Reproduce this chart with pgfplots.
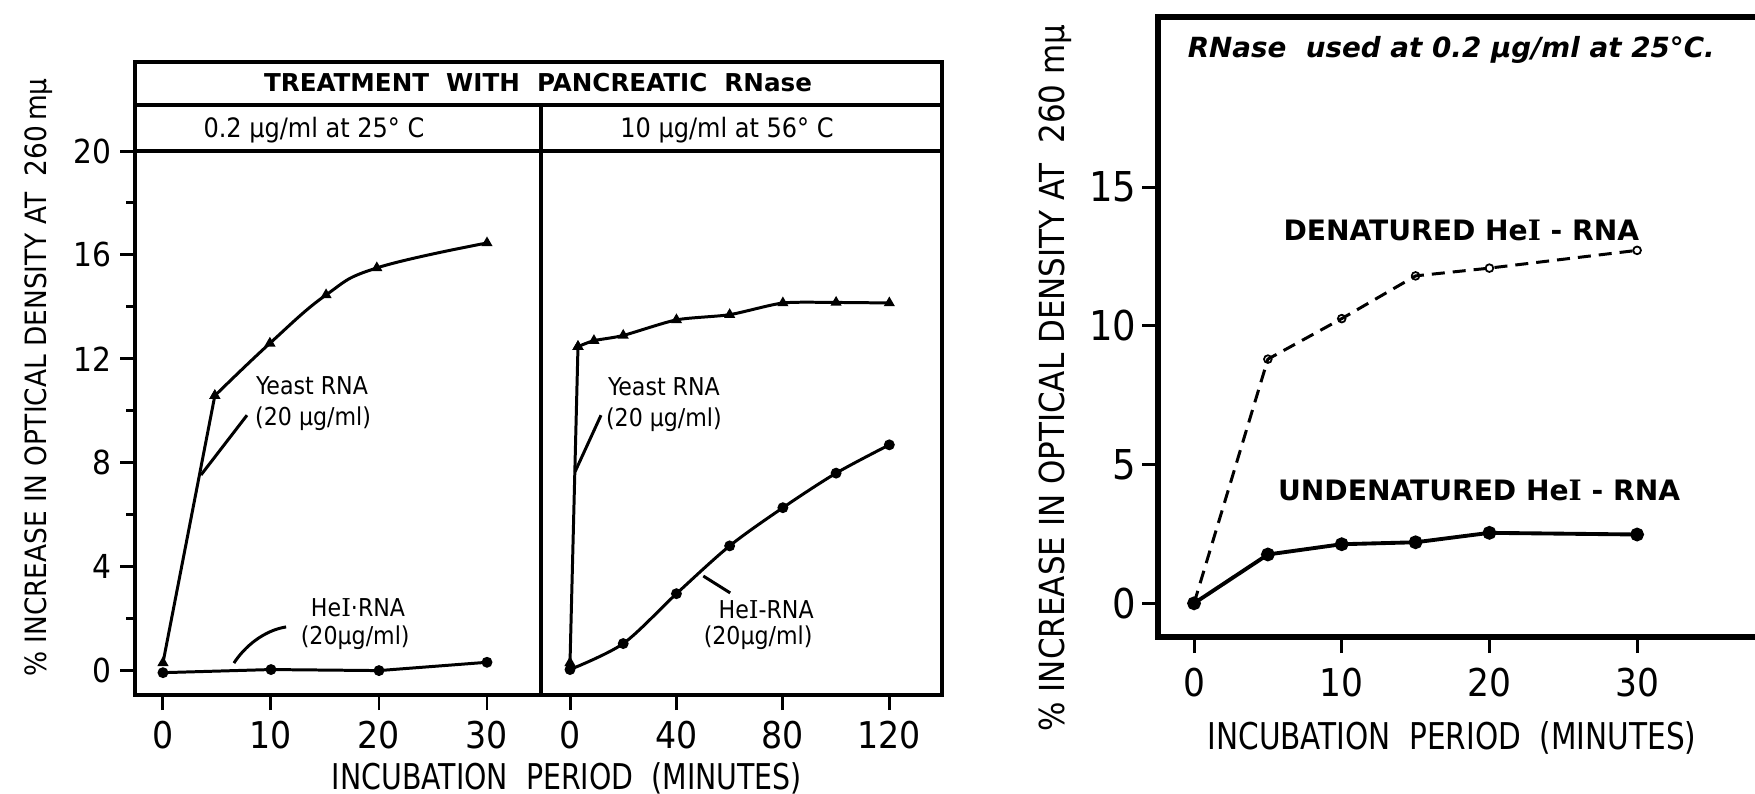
\documentclass[border=0pt]{standalone}
\usepackage{pgfplots}
\pgfplotsset{compat=1.18}
\usepackage{fontspec}
\setmainfont{DejaVu Sans Condensed}
\newfontfamily\widefont{DejaVu Sans}
\newfontfamily\narrowfont{DejaVu Sans Condensed}[FakeStretch=0.89]
\newfontfamily\serifI{DejaVu Serif}
\newcommand{\fs}[1]{\fontsize{#1}{#1}\selectfont}
\newcommand{\HeI}{He{\serifI I}}

% 1 px of the reference = 0.1 mm
\pgfplotsset{
  panel/.style={
    scale only axis, anchor=south west, clip=false,
    axis line style={line width=1.15pt},
    tick style={line width=0.85pt, black},
    tick align=outside,
    major tick length=1.5mm, minor tick length=0.9mm,
    xtick pos=bottom, ytick pos=left,
    /pgf/number format/assume math mode=true,
    every axis plot/.append style={line width=0.85pt, black},
  },
}
\tikzset{lbl/.style={font=\fs{7}, align=center, inner sep=0pt}}

\begin{document}
\begin{tikzpicture}

% === left figure, first panel: 0.2 ug/ml at 25 C ===
\begin{axis}[
  panel,
  at={(13.5mm,9.8mm)}, width=40.6mm, height=54.4mm,
  xmin=-2.59, xmax=35.0, ymin=-0.94, ymax=20,
  xtick={0,10,20,30},
  ytick={0,4,...,20}, minor ytick={2,6,...,18},
  xticklabel style={font=\fs{10.5}, inner sep=0pt, yshift=-1mm},
  yticklabel style={font=\fs{9.4}, inner sep=0pt, xshift=-0.8mm},
]
% Yeast RNA
\addplot[mark=triangle*, mark size=1.0pt] coordinates {(0,0.3) (4.8,10.58)};
\addplot[smooth, tension=0.7, mark=triangle*, mark size=1.0pt]
  coordinates {(4.8,10.58) (9.9,12.6) (15.1,14.46) (19.8,15.5) (30,16.46)};
% HeI-RNA
\addplot[mark=*, mark size=1.1pt]
  coordinates {(0,-0.08) (10,0.04) (20,0) (30,0.32)};

\node[lbl] at (axis cs:13.8,10.95) {Yeast RNA};
\node[lbl] at (axis cs:13.9,9.68) {(20 µg/ml)};
\draw[line width=0.85pt] (axis cs:7.78,9.83) -- (axis cs:3.52,7.53);
\node[lbl] at (axis cs:18.06,2.41) {\HeI·RNA};
\node[lbl] at (axis cs:17.8,1.25) {(20µg/ml)};
\draw[line width=0.85pt] (axis cs:11.4,1.68) .. controls (axis cs:9.4,1.55) and (axis cs:7.6,0.95) .. (axis cs:6.57,0.29);
\end{axis}

% === left figure, second panel: 10 ug/ml at 56 C ===
\begin{axis}[
  panel,
  at={(54.1mm,9.8mm)}, width=40.1mm, height=54.4mm,
  xmin=-10.9, xmax=139.8, ymin=-0.94, ymax=20,
  xtick={0,40,80,120}, ytick=\empty,
  xticklabel style={font=\fs{10.5}, inner sep=0pt, yshift=-1mm},
]
% Yeast RNA
\addplot[mark=triangle*, mark size=1.0pt] coordinates {(0,0.3) (3,12.47)};
\addplot[smooth, tension=0.4, mark=triangle*, mark size=1.0pt]
  coordinates {(3,12.47) (9,12.7) (20,12.9) (40,13.5) (60,13.7) (80,14.15) (100,14.17) (120,14.15)};
% HeI-RNA
\addplot[smooth, tension=0.5, mark=*, mark size=1.1pt]
  coordinates {(0,0.04) (20,1.04) (40,2.96) (60,4.8) (80,6.27) (100,7.6) (120,8.69)};

\node[lbl] at (axis cs:35.3,10.91) {Yeast RNA};
\node[lbl] at (axis cs:35.3,9.64) {(20 µg/ml)};
\draw[line width=0.85pt] (axis cs:11.65,9.83) -- (axis cs:1.88,7.65);
\node[lbl] at (axis cs:73.7,2.33) {\HeI-RNA};
\node[lbl] at (axis cs:70.7,1.25) {(20µg/ml)};
\draw[line width=0.85pt] (axis cs:60.2,2.99) -- (axis cs:50.1,3.64);
\end{axis}

% header boxes of the left figure
\draw[line width=1.15pt] (13.5mm,64.2mm) rectangle (94.2mm,73.1mm);
\draw[line width=1.15pt] (13.5mm,68.8mm) -- (94.2mm,68.8mm);
\draw[line width=1.15pt] (54.1mm,64.2mm) -- (54.1mm,68.8mm);
\node[inner sep=0pt] at (53.8mm,71.0mm)
  {\widefont\bfseries\fs{7.0}TREATMENT\ \ WITH\ \ PANCREATIC\ \ RNase};
\node[inner sep=0pt, font=\fs{7.6}] at (31.4mm,66.3mm) {0.2 µg/ml at 25° C};
\node[inner sep=0pt, font=\fs{7.6}] at (72.7mm,66.3mm) {10 µg/ml at 56° C};
\node[inner sep=0pt, rotate=90, font=\fs{8.35}] at (3.9mm,41.55mm)
  {\%\ INCREASE\ IN\ OPTICAL\ DENSITY\ AT\ \ 260\,mµ};
\node[inner sep=0pt, font=\narrowfont\fs{10.1}] at (56.7mm,1.5mm) {INCUBATION\ \ PERIOD\ \ (MINUTES)};

% === right figure: denatured vs undenatured HeI-RNA ===
\begin{axis}[
  panel,
  at={(115.8mm,15.6mm)}, width=61.2mm, height=62.0mm,
  xmin=-2.44, xmax=39.0, ymin=-1.214, ymax=21.13,
  axis line style={line width=1.6pt},
  major tick length=1.6mm,
  xtick={0,10,20,30}, ytick={0,5,10,15},
  xticklabel style={font=\fs{10.9}, inner sep=0pt, yshift=-1.4mm},
  yticklabel style={font=\fs{11.7}, inner sep=0pt, xshift=-0.5mm},
]
% denatured HeI-RNA
\addplot[dash pattern=on 1.3mm off 0.8mm, mark=o, mark size=1.1pt, mark options={solid, line width=0.5pt, fill=white}]
  coordinates {(0,0) (5,8.8) (10,10.26) (15,11.8) (20,12.08) (30,12.72)};
% undenatured HeI-RNA
\addplot[line width=1.1pt, mark=*, mark size=1.4pt]
  coordinates {(0,0) (5,1.76) (10,2.13) (15,2.2) (20,2.54) (30,2.48)};

\node[anchor=west, inner sep=0pt, font=\widefont\bfseries\itshape\fs{7.9}] at (axis cs:-0.47,19.94)
  {RNase\ \ used at 0.2 µg/ml at 25°C.};
\node[inner sep=0pt, font=\widefont\bfseries\fs{8}] at (axis cs:18.1,13.45) {DENATURED {\bfseries\HeI} - RNA};
\node[inner sep=0pt, font=\widefont\bfseries\fs{8}] at (axis cs:19.3,4.08) {UNDENATURED {\bfseries\HeI} - RNA};
\end{axis}

\node[inner sep=0pt, rotate=90, font=\fs{9.8}] at (105.5mm,41.5mm)
  {\%\ INCREASE\ IN\ OPTICAL\ DENSITY\ AT\ \ 260\ mµ};
\node[inner sep=0pt, font=\narrowfont\fs{10.5}] at (145.2mm,5.5mm) {INCUBATION\ \ PERIOD\ \ (MINUTES)};

\pgfresetboundingbox
\path[use as bounding box] (0,0) rectangle (175.5mm,79.3mm);
\end{tikzpicture}
\end{document}
